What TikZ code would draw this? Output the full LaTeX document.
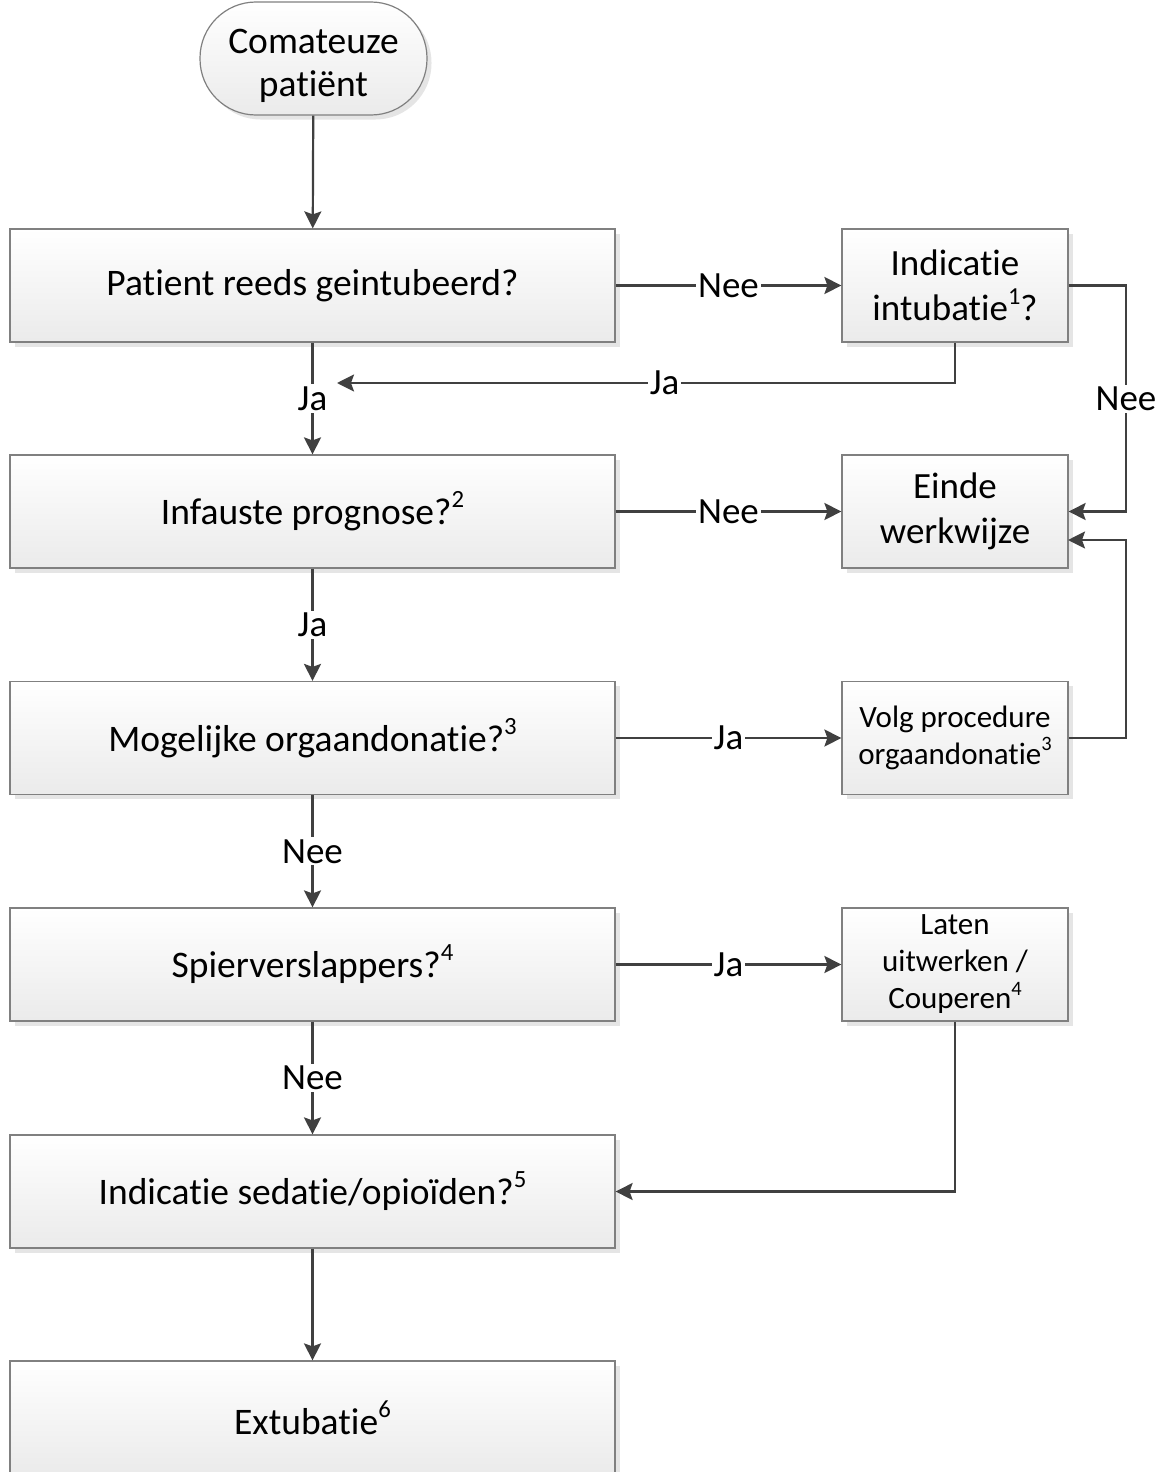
\documentclass[tikz,border=0pt]{standalone}
\usepackage{fontspec}
\usepackage{graphicx}
\setmainfont{Carlito}[Ligatures=NoCommon]
\usetikzlibrary{arrows.meta,shadows}
\definecolor{lineC}{HTML}{404040}
\definecolor{borderC}{HTML}{808080}
\newcommand\supnum[1]{\raisebox{0.45em}{\scalebox{0.66}{#1}}}
\begin{document}
\begin{tikzpicture}[x=1pt,y=-1pt,
  shapebase/.style={draw=borderC, line width=1.2pt, top color=white, bottom color=black!8,
    drop shadow={shadow xshift=4.5pt, shadow yshift=-4.5pt, fill=black!10, opacity=1},
    inner sep=0pt, align=center},
  bigbox/.style={shapebase, minimum width=605pt, minimum height=113pt, font=\fontsize{37.5}{45}\selectfont},
  smallbox/.style={shapebase, minimum width=226pt, minimum height=113pt, font=\fontsize{37}{45}\selectfont},
  tinybox/.style={shapebase, minimum width=226pt, minimum height=113pt, font=\fontsize{31}{37}\selectfont},
  startbox/.style={shapebase, rounded corners=56pt, minimum width=227pt, minimum height=113pt, font=\fontsize{37.5}{43}\selectfont},
  arr/.style={draw=lineC, line width=2.2pt, -{Stealth[length=17pt,width=17pt,inset=3pt]}},
  lbl/.style={fill=white, inner sep=2pt, text=black, font=\fontsize{37}{42}\selectfont}
]
\useasboundingbox (0,0) rectangle (1160,1472);

\node[startbox] (start) at (313.5,58.5) {\raisebox{-8pt}[\height][\depth]{\begin{tabular}{@{}c@{}}Comateuze\\patiënt\end{tabular}}};

\node[bigbox] (b1) at (312.5,285.5) {Patient reeds geintubeerd?};
\node[bigbox] (b2) at (312.5,511.5) {Infauste prognose?\supnum{2}};
\node[bigbox] (b3) at (312.5,738) {Mogelijke orgaandonatie?\supnum{3}};
\node[bigbox] (b4) at (312.5,964.5) {Spierverslappers?\supnum{4}};
\node[bigbox] (b5) at (312.5,1191.5) {Indicatie sedatie/opioïden?\supnum{5}};
\node[bigbox] (b6) at (312.5,1417.5) {Extubatie\supnum{6}};

\node[smallbox] (r1) at (955,285.5) {Indicatie\\intubatie\supnum{1}?};
\node[smallbox] (r2) at (955,511.5) {Einde\\werkwijze};
\node[tinybox] (r3) at (955,738) {Volg procedure\\orgaandonatie\supnum{3}};
\node[tinybox] (r4) at (955,964.5) {Laten\\uitwerken /\\Couperen\supnum{4}};

\coordinate (jaend) at (337,383);
\coordinate (c1) at (1126,285.5);
\coordinate (c2) at (1126,511.5);
\coordinate (c3) at (1126,738);
\coordinate (c4) at (1126,540);
\coordinate (c5) at (1068,540);

\draw[arr] (start) -- (b1);
\draw[arr] (b1) -- node[lbl]{Nee} (r1);
\draw[arr] (r1.south) |- node[lbl, pos=0.735]{Ja} (jaend);
\draw[arr] (b1) -- node[lbl]{Ja} (b2);
\draw[arr] (r1.east) -- (c1) -- node[lbl]{Nee} (c2) -- (r2.east);
\draw[arr] (b2) -- node[lbl]{Nee} (r2);
\draw[arr] (b2) -- node[lbl]{Ja} (b3);
\draw[arr] (b3) -- node[lbl]{Ja} (r3);
\draw[arr] (r3.east) -- (c3) -- (c4) -- (c5);
\draw[arr] (b3) -- node[lbl]{Nee} (b4);
\draw[arr] (b4) -- node[lbl]{Ja} (r4);
\draw[arr] (b4) -- node[lbl]{Nee} (b5);
\draw[arr] (r4.south) |- (b5.east);
\draw[arr] (b5) -- (b6);
\end{tikzpicture}
\end{document}
